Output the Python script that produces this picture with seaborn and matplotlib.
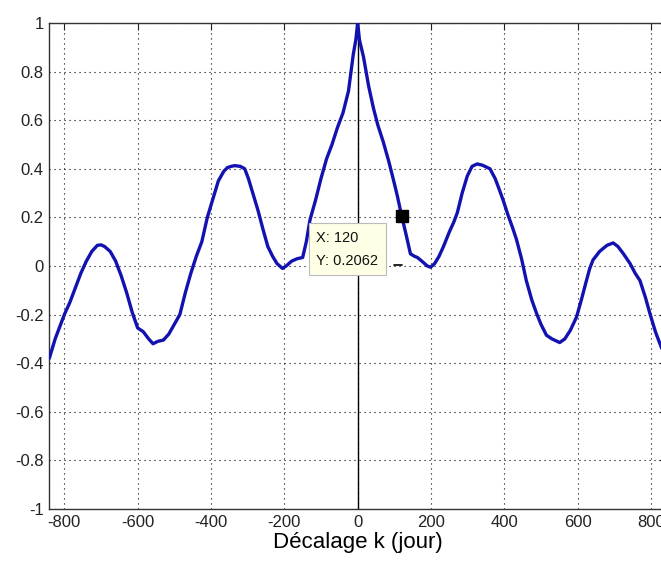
import matplotlib
matplotlib.use("Agg")
import matplotlib.pyplot as plt
import seaborn as sns
import numpy as np
import pandas as pd

# Lag (days) and autocorrelation values
lags = [-841, -825, -810, -800, -785, -770, -755, -740, -725, -710, -700, -690, -675, -660,
        -645, -630, -615, -600, -585, -570, -558, -545, -530, -515, -500, -485, -470, -455,
        -440, -425, -410, -400, -390, -380, -365, -355, -345, -335, -320, -308, -298, -286,
        -272, -258, -245, -232, -220, -205, -195, -180, -165, -150, -140, -130, -115, -100,
        -85, -70, -55, -40, -25, -12, -5, 0, 5, 16, 30, 43, 55, 70, 85, 100, 108, 120, 132,
        144, 155, 163, 175, 190, 199, 210, 222, 234, 250, 262, 272, 285, 299, 312, 326, 340,
        361, 375, 385, 397, 410, 422, 433, 447, 460, 475, 488, 500, 515, 530, 551, 565, 580,
        597, 610, 624, 633, 642, 660, 680, 697, 710, 725, 743, 757, 770, 785, 797, 812, 827, 841]
acf = [-0.38, -0.30, -0.24, -0.20, -0.15, -0.09, -0.03, 0.02, 0.06, 0.085, 0.087, 0.08, 0.06, 0.02,
       -0.04, -0.11, -0.19, -0.255, -0.27, -0.30, -0.32, -0.31, -0.305, -0.28, -0.24, -0.20, -0.11, -0.03,
       0.04, 0.10, 0.20, 0.25, 0.30, 0.35, 0.39, 0.405, 0.41, 0.413, 0.41, 0.40, 0.36, 0.30,
       0.23, 0.15, 0.08, 0.04, 0.01, -0.01, 0.00, 0.02, 0.03, 0.035, 0.10, 0.19, 0.27, 0.36,
       0.44, 0.50, 0.57, 0.63, 0.72, 0.87, 0.93, 1.0, 0.93, 0.86, 0.74, 0.65, 0.58, 0.51, 0.43, 0.34, 0.29, 0.2062, 0.13,
       0.05, 0.04, 0.035, 0.02, 0.00, -0.005, 0.01, 0.04, 0.08, 0.14, 0.18, 0.22, 0.30, 0.37, 0.41, 0.42, 0.415,
       0.40, 0.36, 0.32, 0.27, 0.21, 0.16, 0.11, 0.03, -0.06, -0.14, -0.195, -0.24, -0.285, -0.30, -0.315, -0.30, -0.265,
       -0.21, -0.14, -0.06, -0.01, 0.025, 0.06, 0.085, 0.095, 0.08, 0.05, 0.01, -0.03, -0.06, -0.13, -0.195, -0.27, -0.33, -0.38]

x_ticks = [-800, -600, -400, -200, 0, 200, 400, 600, 800]
y_ticks = [-1, -0.8, -0.6, -0.4, -0.2, 0, 0.2, 0.4, 0.6, 0.8, 1]
y_tick_labels = ["-1", "-0.8", "-0.6", "-0.4", "-0.2", "0", "0.2", "0.4", "0.6", "0.8", "1"]
tip_x, tip_y = 120, 0.2062
xlabel = "Décalage k (jour)"

df = pd.DataFrame({"lag": lags, "acf": acf})

sns.set_theme(style="white")
plt.rcParams["font.family"] = ["Liberation Sans", "DejaVu Sans"]

fig = plt.figure(figsize=(6.61, 5.65), dpi=100)
ax = fig.add_axes([49.3 / 661, 56 / 565, (666 - 49.3) / 661, (509 - 23) / 565])

sns.lineplot(data=df, x="lag", y="acf", sort=False, estimator=None,
             color="#1212b0", linewidth=2.4, ax=ax, zorder=3)

ax.axvline(0, color="black", linewidth=1.0, zorder=2)

ax.set_xlim(-841, 841)
ax.set_ylim(-1, 1)
ax.set_xticks(x_ticks)
ax.set_xticklabels([str(v) for v in x_ticks])
ax.set_yticks(y_ticks)
ax.set_yticklabels(y_tick_labels)

ax.grid(True, linestyle=(0, (1, 3.5)), color="black", linewidth=0.8)
ax.set_axisbelow(True)
for s in ax.spines.values():
    s.set_color("#333333")
    s.set_linewidth(1.0)
ax.tick_params(direction="in", length=5, width=0.8, colors="#222222",
               top=True, right=True, labelsize=12, pad=4)
ax.set_xlabel(xlabel, fontsize=16, color="black", labelpad=2)
ax.set_ylabel("")

# data tip
ax.plot([tip_x], [tip_y], marker="s", markersize=8, color="black", zorder=5, linestyle="none")
ax.annotate(f"X: {tip_x}\nY: {tip_y}", xy=(tip_x, tip_y), xycoords="data",
            xytext=(-113, 0.145), textcoords="data", ha="left", va="top",
            fontsize=10.5, linespacing=1.85, color="#111111",
            bbox=dict(boxstyle="square,pad=0.5", fc="#ffffe6", ec="#bbbbbb", lw=0.8),
            zorder=6)
ax.plot([100, 122], [0.003, 0.003], color="black", linewidth=1.2, zorder=6)

fig.savefig("out.png", dpi=100)
